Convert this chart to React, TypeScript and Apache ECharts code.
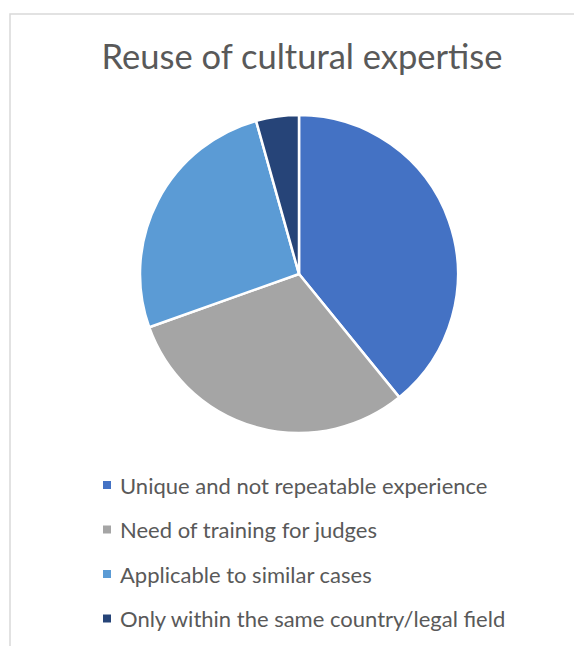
import React, { useEffect, useRef } from "react";
import * as echarts from "echarts";

const categories = [
  "Unique and not repeatable experience",
  "Need of training for judges",
  "Applicable to similar cases",
  "Only within the same country/legal field",
];
const values = [9, 7, 6, 1];
const colors = ["#4472C4", "#A5A5A5", "#5B9BD5", "#264478"];
const titleText = "Reuse of cultural expertise";

export default function App() {
  const ref = useRef<HTMLDivElement>(null);
  useEffect(() => {
    if (!ref.current) return;
    const chart = echarts.init(ref.current, null, { renderer: "svg" });
    chart.setOption({
      animation: false,
      backgroundColor: "#ffffff",
      title: {
        text: titleText,
        left: 297,
        textAlign: "center",
        top: 33,
        textStyle: {
          fontFamily: "Lato",
          fontSize: 34.5,
          fontWeight: "normal",
          color: "#595959",
        },
      },
      legend: {
        orient: "vertical",
        left: 96,
        top: 469,
        itemWidth: 10,
        itemHeight: 10,
        itemGap: 22.5,
        icon: "rect",
        data: categories,
        textStyle: {
          fontFamily: "Lato",
          fontSize: 22,
          color: "#595959",
          padding: [0, 0, 0, 3],
        },
      },
      graphic: [
        {
          type: "rect",
          shape: { x: 10, y: 14, width: 700, height: 700 },
          style: { fill: "none", stroke: "#d9d9d9", lineWidth: 1.5 },
          silent: true,
        },
      ],
      series: [
        {
          type: "pie",
          center: [299, 274],
          radius: 159,
          startAngle: 90,
          clockwise: true,
          label: { show: false },
          labelLine: { show: false },
          emphasis: { disabled: true },
          itemStyle: { borderColor: "#ffffff", borderWidth: 2.5 },
          data: categories.map((name, i) => ({
            name,
            value: values[i],
            itemStyle: { color: colors[i] },
          })),
        },
      ],
    });
    return () => chart.dispose();
  }, []);
  return (
    <div
      ref={ref}
      style={{ position: "fixed", left: 0, top: 0, width: 574, height: 646 }}
    />
  );
}
